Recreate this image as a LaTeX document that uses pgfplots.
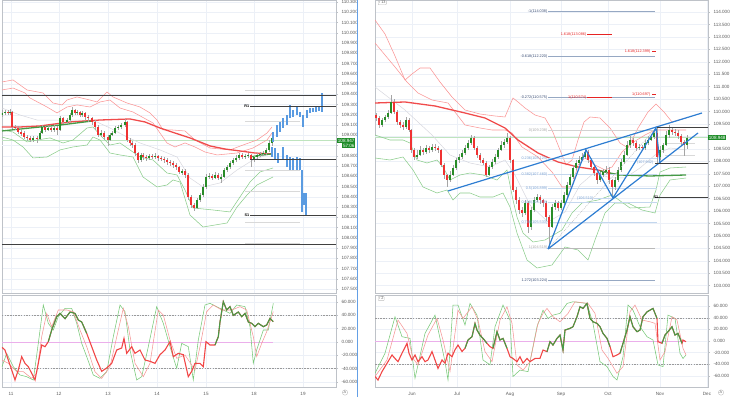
\documentclass[border=0pt]{standalone}
\usepackage{pgfplots}
\pgfplotsset{compat=1.18}
\usepackage{pgfplotstable}
\usepackage{fontspec}
\setmainfont{Liberation Sans}
\definecolor{gridc}{RGB}{236,240,247}
\definecolor{axisc}{RGB}{190,194,200}
\definecolor{tickc}{RGB}{90,90,90}
\definecolor{upc}{RGB}{40,140,40}
\definecolor{downc}{RGB}{240,50,50}
\definecolor{wickc}{RGB}{165,165,165}
\definecolor{bbred}{RGB}{250,150,150}
\definecolor{bbgreen}{RGB}{140,205,140}
\definecolor{midc}{RGB}{215,215,222}
\definecolor{mared}{RGB}{240,75,75}
\definecolor{magreen}{RGB}{70,155,70}
\definecolor{bluec}{RGB}{45,125,210}
\definecolor{projc}{RGB}{90,155,225}
\definecolor{fibline}{RGB}{150,168,195}
\definecolor{fibtext}{RGB}{55,75,115}
\definecolor{fiblb}{RGB}{195,215,238}
\definecolor{fiblbt}{RGB}{120,160,210}
\definecolor{fibred}{RGB}{230,35,35}
\definecolor{pinkc}{RGB}{235,175,235}
\definecolor{curg}{RGB}{30,140,40}
\definecolor{curl}{RGB}{190,228,190}
\definecolor{oscg}{RGB}{120,200,120}
\definecolor{oscr}{RGB}{245,150,150}
\definecolor{sepc}{RGB}{100,160,230}
\newcommand{\tk}{\fontsize{4.6}{5}\selectfont}
\newcommand{\fb}{\fontsize{3.8}{4}\selectfont}

\pgfplotsset{tv/.style={scale only axis, enlargelimits=false, clip mode=individual,
  axis line style={draw=axisc, line width=0.5pt},
  xmajorgrids, ymajorgrids, grid style={draw=gridc, line width=0.4pt},
  ytick pos=right, yticklabel pos=right, tick align=outside, major tick length=2pt,
  tick style={draw=axisc, line width=0.4pt},
  xtick style={draw=none},
  ticklabel style={font=\tk, text=tickc},
  y tick label style={/pgf/number format/fixed, /pgf/number format/fixed zerofill, /pgf/number format/precision=3, /pgf/number format/assume math mode=true},
  scaled y ticks=false,
  extra tick style={grid=major, tick style={draw=axisc}},
}}

\newcommand{\drawcandles}[3]{%
  \addplot[draw=none, no markers, forget plot, error bars/.cd, y dir=both, y explicit, error mark=none, error bar style={line width=0.45pt, draw=wickc}]
    table[x=x, y expr={0.5*(\thisrow{h}+\thisrow{l})}, y error expr={0.5*(\thisrow{h}-\thisrow{l})}] {#1};
  \addplot[draw=none, no markers, forget plot, restrict expr to domain={\thisrow{c}-\thisrow{o}}{0:1000}, unbounded coords=discard, error bars/.cd, y dir=both, y explicit, error mark=none, error bar style={line width=#2, draw=upc}]
    table[x=x, y expr={0.5*(\thisrow{o}+\thisrow{c})}, y error expr={max(0.5*abs(\thisrow{c}-\thisrow{o}),#3)}] {#1};
  \addplot[draw=none, no markers, forget plot, restrict expr to domain={\thisrow{c}-\thisrow{o}}{-1000:-0.0000001}, unbounded coords=discard, error bars/.cd, y dir=both, y explicit, error mark=none, error bar style={line width=#2, draw=downc}]
    table[x=x, y expr={0.5*(\thisrow{o}+\thisrow{c})}, y error expr={max(0.5*abs(\thisrow{c}-\thisrow{o}),#3)}] {#1};
}

\pgfplotstableread{
x o c h l
2 109.199 109.218 109.245 109.18
5 109.218 109.227 109.25 109.20
8 109.227 109.218 109.245 109.195
10 109.218 109.227 109.255 109.20
12 109.227 109.081 109.24 109.06
15 109.081 109.071 109.10 109.05
18 109.071 109.032 109.09 109.01
21 109.032 109.022 109.05 108.99
24 109.022 108.983 109.04 108.96
27 108.983 108.974 109.00 108.94
30 108.974 108.954 108.99 108.93
33 108.954 108.974 108.99 108.93
37 108.974 108.964 108.99 108.92
40 108.964 109.022 109.04 108.95
42 109.022 109.081 109.10 109.01
45 109.081 109.052 109.09 109.03
48 109.052 109.071 109.09 109.04
51 109.071 109.052 109.09 109.03
54 109.052 109.071 109.10 109.03
57 109.071 109.052 109.09 109.00
60 109.052 109.169 109.19 109.04
63 109.169 109.130 109.18 109.11
67 109.130 109.149 109.17 109.11
70 109.149 109.198 109.22 109.13
72 109.198 109.247 109.28 109.18
75 109.247 109.218 109.26 109.20
77 109.218 109.227 109.25 109.20
80 109.227 109.198 109.24 109.18
82 109.198 109.218 109.24 109.18
85 109.218 109.179 109.23 109.15
88 109.179 109.169 109.20 109.13
92 109.169 109.130 109.18 109.10
95 109.130 109.081 109.15 109.05
98 109.081 109.003 109.10 108.98
101 109.003 109.022 109.05 108.98
104 109.022 108.983 109.04 108.95
108 108.983 108.954 109.00 108.90
110 108.954 109.003 109.02 108.94
112 109.003 109.022 109.04 108.99
115 109.022 109.071 109.09 109.01
118 109.071 109.081 109.10 109.05
121 109.081 109.100 109.12 109.06
125 109.100 109.130 109.16 109.08
127 109.130 108.954 109.14 108.93
130 108.954 108.925 108.97 108.90
132 108.925 108.905 108.94 108.88
135 108.905 108.827 108.92 108.80
138 108.827 108.759 108.84 108.73
141 108.759 108.808 108.83 108.74
143 108.808 108.788 108.83 108.76
146 108.788 108.779 108.81 108.75
149 108.779 108.798 108.82 108.76
152 108.798 108.788 108.82 108.77
155 108.788 108.798 108.83 108.77
158 108.798 108.779 108.81 108.75
161 108.779 108.769 108.80 108.75
164 108.769 108.759 108.79 108.73
167 108.759 108.740 108.78 108.71
170 108.740 108.730 108.76 108.70
173 108.730 108.710 108.75 108.68
176 108.710 108.691 108.73 108.66
179 108.691 108.642 108.70 108.62
182 108.642 108.650 108.67 108.61
185 108.650 108.613 108.67 108.58
188 108.613 108.398 108.63 108.37
191 108.398 108.320 108.42 108.29
194 108.320 108.291 108.34 108.26
197 108.291 108.369 108.39 108.28
200 108.369 108.417 108.44 108.35
203 108.417 108.496 108.52 108.40
206 108.496 108.593 108.62 108.48
209 108.593 108.603 108.63 108.57
212 108.603 108.583 108.62 108.56
215 108.583 108.613 108.64 108.57
218 108.613 108.583 108.63 108.56
221 108.583 108.593 108.62 108.53
224 108.593 108.661 108.68 108.58
227 108.661 108.691 108.71 108.64
230 108.691 108.730 108.75 108.67
233 108.730 108.759 108.78 108.71
236 108.759 108.779 108.81 108.74
239 108.779 108.808 108.83 108.76
242 108.808 108.788 108.83 108.77
245 108.788 108.798 108.82 108.77
248 108.798 108.808 108.83 108.78
251 108.808 108.759 108.82 108.69
254 108.759 108.788 108.80 108.74
257 108.788 108.808 108.83 108.77
260 108.808 108.818 108.84 108.79
263 108.818 108.827 108.85 108.80
266 108.827 108.857 108.88 108.81
269 108.857 108.925 108.95 108.84
272 108.925 108.974 109.00 108.90
}\lcandles

\pgfplotstableread{
x lo hi
273 108.935 109.032
277 108.983 109.100
280 109.032 109.130
283 109.071 109.169
287 109.100 109.198
290 109.169 109.296
293 109.179 109.247
297 109.198 109.276
300 109.179 109.227
303 109.081 109.198
307 109.169 109.247
310 109.218 109.266
313 109.227 109.266
316 109.227 109.276
319 109.237 109.286
322 109.227 109.413
272 108.788 108.886
275 108.759 108.876
278 108.730 108.827
283 108.759 108.886
287 108.691 108.808
290 108.661 108.788
293 108.661 108.779
297 108.661 108.788
300 108.661 108.779
302 108.252 108.661
304 108.320 108.437
306 108.222 108.437
}\lproj

\pgfplotstableread{
x o c h l
373 109.981 109.860 110.06 109.78
376 109.860 109.740 109.94 109.62
379 109.740 109.458 109.80 109.34
382 109.458 109.659 109.74 109.38
385 109.659 109.780 109.88 109.58
388 109.780 109.941 110.06 109.70
391 109.941 110.383 110.66 109.90
394 110.383 109.981 110.50 109.90
397 109.981 109.579 110.05 109.45
400 109.579 109.458 109.66 109.35
403 109.458 109.378 109.56 109.26
406 109.378 109.659 109.78 109.30
409 109.659 109.257 109.74 109.18
411 109.257 108.454 109.30 108.35
414 108.454 108.172 108.55 108.05
417 108.172 108.253 108.45 108.10
420 108.253 108.454 108.60 108.20
423 108.454 108.373 108.55 108.25
426 108.373 108.534 108.65 108.30
429 108.534 108.454 108.62 108.35
432 108.454 108.574 108.70 108.38
435 108.574 108.534 108.70 108.42
438 108.534 108.454 108.62 108.35
441 108.454 107.851 108.50 107.75
444 107.851 107.449 107.95 107.30
447 107.449 107.248 107.50 106.97
450 107.248 107.449 107.60 107.15
453 107.449 107.730 107.85 107.40
456 107.730 108.052 108.15 107.65
459 108.052 108.172 108.30 107.95
462 108.172 108.333 108.45 108.10
465 108.333 108.534 108.65 108.25
468 108.534 108.735 108.85 108.45
471 108.735 108.936 109.05 108.65
474 108.936 108.534 109.00 108.45
477 108.534 108.253 108.60 108.15
480 108.253 108.052 108.35 107.95
483 108.052 107.931 108.15 107.85
486 107.931 107.449 108.00 107.37
489 107.449 107.770 107.85 107.40
492 107.770 107.971 108.10 107.70
495 107.971 108.172 108.30 107.90
498 108.172 108.454 108.55 108.10
501 108.454 108.655 108.80 108.40
504 108.655 108.775 108.90 108.55
507 108.775 108.936 109.12 108.70
510 108.936 108.052 109.00 107.95
513 108.052 106.846 108.10 106.75
516 106.846 106.444 106.95 106.30
519 106.444 106.042 106.55 105.90
522 106.042 105.921 106.15 105.75
525 105.921 106.323 106.45 105.85
528 106.323 105.359 106.40 105.10
531 105.359 106.042 106.15 105.25
534 106.042 106.444 106.55 105.95
537 106.444 106.564 106.70 106.35
540 106.564 106.444 106.65 106.30
543 106.444 106.323 106.50 106.15
546 106.323 105.761 106.40 105.60
549 105.761 105.359 105.85 104.48
552 105.359 106.163 106.30 105.30
555 106.163 106.323 106.45 106.05
558 106.323 106.122 106.40 106.00
561 106.122 106.323 106.45 106.05
564 106.323 106.645 106.75 106.25
567 106.645 107.047 107.15 106.55
570 107.047 107.368 107.50 106.95
573 107.368 107.730 107.85 107.30
576 107.730 107.931 108.05 107.65
579 107.931 108.052 108.20 107.85
582 108.052 108.172 108.35 108.00
585 108.172 108.373 108.52 108.10
588 108.373 108.052 108.45 107.95
591 108.052 107.770 108.15 107.65
594 107.770 107.529 107.85 107.40
597 107.529 107.248 107.60 107.10
600 107.248 107.449 107.55 107.15
603 107.449 107.570 107.70 107.35
606 107.570 107.650 107.80 107.50
609 107.650 107.248 107.75 107.10
612 107.248 106.966 107.30 106.56
615 106.966 107.248 107.35 106.85
618 107.248 107.650 107.75 107.15
621 107.650 107.971 108.10 107.55
624 107.971 108.253 108.40 107.90
627 108.253 108.655 108.80 108.20
630 108.655 108.855 109.00 108.55
633 108.855 108.735 108.95 108.60
636 108.735 108.534 108.80 108.40
639 108.534 108.574 108.70 108.45
642 108.574 108.534 108.65 108.42
645 108.534 108.735 108.85 108.45
648 108.735 108.855 109.00 108.65
651 108.855 108.976 109.10 108.80
654 108.976 109.137 109.30 108.90
657 109.137 108.172 109.36 107.95
660 108.172 108.454 108.60 108.05
663 108.454 108.655 108.75 108.35
666 108.655 109.056 109.20 108.60
669 109.056 109.257 109.45 108.95
672 109.257 109.177 109.35 109.05
675 109.177 109.137 109.30 109.00
678 109.137 109.016 109.25 108.90
681 109.016 108.775 109.10 108.60
684 108.775 108.655 108.85 108.20
687 108.655 108.948 109.05 108.50
}\rcandles

\begin{document}
\begin{tikzpicture}
\useasboundingbox (0,0) rectangle (730pt,397pt);

%================ LEFT MAIN =================
\begin{axis}[tv, at={(2pt,397pt)}, anchor=north west, width=334pt, height=293pt,
  xmin=2, xmax=336, ymin=107.461, ymax=110.32,
  xtick={11,59,108,157,206,254,303}, xticklabels={},
  ytick={107.5,107.6,107.7,107.8,107.9,108.0,108.1,108.2,108.3,108.4,108.5,108.6,108.7,108.8,109.0,109.1,109.2,109.3,109.4,109.5,109.6,109.7,109.8,109.9,110.0,110.1,110.2,110.3},
  extra y ticks={108.9}, extra y tick labels={}]
\addplot[curl, line width=0.5pt] coordinates {(2,108.947) (336,108.947)};
\addplot[midc, line width=0.5pt] coordinates {(2,109.266) (20,109.198) (37,109.149) (80,109.149) (97,109.130) (110,109.071) (127,108.983) (140,108.925) (160,108.857) (177,108.788) (190,108.583) (203,108.496) (220,108.535) (237,108.661) (253,108.759) (272,108.827)};
\addplot[bbred, line width=0.55pt] coordinates {(2,109.520) (13,109.540) (27,109.442) (43,109.413) (53,109.315) (62,109.296) (67,109.344) (77,109.374) (90,109.344) (97,109.325) (107,109.422) (113,109.374) (127,109.315) (140,109.276) (150,109.218) (157,109.149) (163,109.052) (172,109.052) (185,109.042) (195,108.954) (210,108.876) (230,108.857) (243,108.905) (257,108.954) (267,109.022) (272,109.081)};
\addplot[bbred, line width=0.55pt] coordinates {(2,109.442) (13,109.461) (25,109.413) (30,109.364) (47,109.276) (57,109.218) (67,109.276) (77,109.296) (90,109.276) (100,109.325) (110,109.344) (120,109.266) (133,109.227) (153,109.120) (160,109.022) (167,108.925) (175,108.886) (185,108.925) (195,108.886) (205,108.837) (217,108.808) (237,108.827) (253,108.876) (267,108.954) (272,109.022)};
\addplot[bbgreen, line width=0.55pt] coordinates {(2,109.052) (13,109.032) (27,108.935) (37,108.954) (50,108.974) (63,108.925) (73,108.954) (87,109.071) (93,109.081) (100,109.003) (110,108.905) (120,108.925) (130,108.857) (140,108.788) (153,108.759) (167,108.632) (177,108.613) (185,108.466) (193,108.291) (213,108.271) (230,108.252) (240,108.398) (250,108.544) (260,108.642) (273,108.681)};
\addplot[bbgreen, line width=0.55pt] coordinates {(2,108.983) (13,108.954) (23,108.886) (33,108.779) (47,108.788) (60,108.857) (73,108.886) (87,108.905) (93,108.983) (100,108.954) (110,108.827) (120,108.808) (133,108.788) (143,108.593) (157,108.496) (167,108.515) (173,108.564) (180,108.544) (190,108.222) (203,108.105) (227,108.144) (237,108.300) (247,108.417) (257,108.515) (273,108.593)};
\addplot[mared, line width=1.3pt] coordinates {(2,109.081) (20,109.081) (40,109.091) (70,109.130) (100,109.149) (130,109.159) (145,109.130) (160,109.071) (175,109.022) (190,108.974) (200,108.935) (210,108.896) (225,108.866) (240,108.847) (255,108.827) (272,108.818)};
\addplot[magreen, line width=1.3pt] coordinates {(2,109.042) (30,109.071) (60,109.100) (93,109.140)};
\addplot[magreen, line width=1.3pt] coordinates {(250,108.788) (262,108.808) (272,108.818)};
% faint pivot levels
\addplot[gray!30, line width=0.4pt] coordinates {(245,109.44) (300,109.44)};
\addplot[gray!30, line width=0.4pt] coordinates {(245,109.14) (300,109.14)};
\addplot[gray!30, line width=0.4pt] coordinates {(245,108.66) (300,108.66)};
\addplot[gray!30, line width=0.4pt] coordinates {(245,108.45) (300,108.45)};
\addplot[gray!30, line width=0.4pt] coordinates {(245,108.15) (300,108.15)};
\addplot[gray!30, line width=0.4pt] coordinates {(245,107.95) (300,107.95)};
\drawcandles{\lcandles}{1.3pt}{0.004}
\addplot[draw=none, no markers, forget plot, error bars/.cd, y dir=both, y explicit, error mark=none, error bar style={line width=1.1pt, draw=projc}]
  table[x=x, y expr={0.5*(\thisrow{lo}+\thisrow{hi})}, y error expr={0.5*(\thisrow{hi}-\thisrow{lo})}] {\lproj};
\addplot[black!75, line width=0.9pt] coordinates {(2,109.385) (336,109.385)};
\addplot[black!75, line width=0.9pt] coordinates {(250,109.28) (336,109.28)};
\addplot[black!75, line width=0.9pt] coordinates {(250,108.76) (336,108.76)};
\addplot[black!75, line width=0.9pt] coordinates {(250,108.22) (336,108.22)};
\addplot[black!75, line width=0.9pt] coordinates {(2,107.93) (336,107.93)};
\node[anchor=east, font=\fb\bfseries, inner sep=0.5pt] at (axis cs:250,109.28) {R1};
\node[anchor=east, font=\fb\bfseries, inner sep=0.5pt] at (axis cs:250,108.22) {S1};
\node[anchor=west, fill=curg, text=white, font=\tk, inner sep=0.7pt] (lp) at (axis cs:337,108.947) {108.947};
\node[anchor=north east, fill=curg, text=white, font=\tk, inner sep=0.7pt] at (lp.south east) {57:06};
\end{axis}

%================ LEFT OSC =================
\begin{axis}[tv, at={(2pt,102pt)}, anchor=north west, width=334pt, height=92pt,
  xmin=2, xmax=336, ymin=-67.5, ymax=70.5,
  xtick={11,59,108,157,206,254,303}, xticklabels={11,12,13,14,15,18,19},
  ytick={-60,-40,-20,0,20,40,60}]
\addplot[pinkc, line width=0.5pt] coordinates {(2,0) (273,0)};
\addplot[gray!80, line width=0.4pt, dash pattern=on 1.5pt off 1.2pt] coordinates {(2,40) (336,40)};
\addplot[gray!80, line width=0.4pt, dash pattern=on 1.5pt off 1.2pt] coordinates {(2,-40) (336,-40)};
\addplot[oscg, line width=0.55pt] coordinates {(2,-37) (6.7,-17) (13.3,-37) (20,-49.5) (26.7,-52) (33.3,-57) (38.3,-2) (43.3,55.5) (48.3,28) (53.3,18) (58.3,38) (65,50.5) (71.7,50.5) (76.7,28) (81.7,-2) (86.7,-22) (93.3,-49.5) (100,-54.5) (106.7,-44.5) (113.3,8) (120,55.5) (125,45.5) (130,-12) (136.7,-57) (141.7,-52) (148.3,-7) (156.7,53) (163.3,28) (170,-7) (176.7,-39.5) (181.7,-2) (188.3,-7) (193.3,-57) (198.3,3) (205,55.5) (210,58) (220,50.5) (230,43) (236.7,55.5) (245,53) (250,23) (253.3,-32) (256.7,-12) (263.3,18) (268.3,18) (273.3,58)};
\addplot[oscr, line width=0.55pt] coordinates {(2,-27) (8.3,-32) (16.7,-44.5) (23.3,-44.5) (31.7,-54.5) (36.7,-47) (41.7,8) (46.7,43) (51.7,23) (58.3,48) (66.7,48) (73.3,45.5) (80,18) (86.7,-7) (95,-44.5) (101.7,-54.5) (110,-37) (118.3,18) (123.3,50.5) (128.3,23) (135,-32) (143.3,-52) (150,-32) (158.3,48) (163.3,40.5) (170,3) (176.7,-24.5) (185,-19.5) (195,-42) (200,-7) (206.7,45.5) (213.3,55.5) (221.7,48) (231.7,48) (240,53) (246.7,48) (253.3,8) (256.7,-22) (261.7,-2) (266.7,15.5) (273.3,45.5)};
\addplot[downc!90, line width=1.1pt] coordinates {(2,-8) (5,-12) (8.3,-27) (11.7,-42) (15,-57) (18.3,-42) (21.7,-22) (25,-32) (28.3,-37) (31.7,-47) (35,-57) (38.3,-32) (41.7,-4.5) (45,-7) (48.3,0.5) (51.7,18) (56.7,38) (60,43) (65,35) (70,45) (75,43) (78.3,33) (81.7,30) (86.7,13) (91.7,-7) (96.7,-27) (101.7,-44) (106.7,-39) (111.7,-32) (116.7,-12) (121.7,-9) (124,5.5) (126.7,-17) (131.7,-7) (135,-17) (140,-12) (145,-27) (150,-29) (155,-32) (160,-19) (165,-12) (170,0.5) (173.3,-22) (178.3,-17) (183.3,-19) (188.3,-52) (191.7,-44) (195,-32) (200,-32) (203.3,-37) (206,0.5) (210,-4.5) (215,-4.5) (218.3,8) (220,30) (223.3,60.5) (226.7,48) (230,53) (233.3,40) (238.3,45) (241.7,38) (245,43) (248.3,30) (251.7,28) (255,23) (258.3,28) (263.3,23) (266.7,25.5) (270,35.5) (273.3,30.5)};
\addplot[magreen, line width=1.1pt] coordinates {(48.3,0.5) (51.7,18) (56.7,38) (60,43) (65,35) (70,45) (75,43) (78.3,33) (81.7,30) (86.7,13)};
\addplot[magreen, line width=1.1pt] coordinates {(215,-4.5) (218.3,8) (220,30) (223.3,60.5) (226.7,48) (230,53) (233.3,40) (238.3,45) (241.7,38) (245,43) (248.3,30) (251.7,28) (255,23) (258.3,28) (263.3,23) (266.7,25.5) (270,35.5) (273.3,30.5)};
\end{axis}

%================ RIGHT MAIN =================
\begin{axis}[tv, at={(375pt,397pt)}, anchor=north west, width=333pt, height=293pt,
  xmin=375, xmax=708, ymin=102.706, ymax=114.482,
  xtick={412,457,510,561,608,660,707}, xticklabels={},
  ytick={103,103.5,104,104.5,105,105.5,106,106.5,107,107.5,108,108.5,109.5,110,110.5,111,111.5,112,112.5,113,113.5,114},
  extra y ticks={109}, extra y tick labels={}]
\addplot[curl, line width=0.5pt] coordinates {(375,108.948) (708,108.948)};
\addplot[midc, line width=0.5pt] coordinates {(375,110.985) (405,110.061) (432,109.056) (450,108.253) (470,107.931) (490,107.770) (505,108.052) (515,107.449) (530,106.243) (548,105.560) (565,105.962) (580,107.047) (595,107.569) (610,107.328) (625,107.328) (640,107.730) (655,108.253) (670,108.534) (686,108.454)};
\addplot[bbred, line width=0.55pt] coordinates {(375,113.678) (385,113.115) (395,112.231) (405,111.267) (412,111.508) (420,111.749) (430,111.749) (440,111.186) (452,110.583) (465,110.061) (480,109.900) (495,109.820) (505,109.780) (510,110.262) (513,110.543) (518,110.383) (525,110.142) (535,109.860) (545,109.740) (552,109.257) (560,108.454) (566,107.851) (572,108.052) (578,108.855) (584,109.579) (590,109.780) (600,109.740) (610,109.338) (620,108.735) (628,108.534) (638,109.338) (648,109.981) (656,110.302) (664,109.981) (672,109.579) (686,109.740)};
\addplot[bbred, line width=0.55pt] coordinates {(375,112.754) (395,111.789) (407,111.186) (418,110.744) (432,110.463) (448,110.342) (465,109.458) (480,109.338) (492,109.257) (505,109.257) (512,109.137) (522,108.574) (538,108.172) (552,107.569) (562,106.966) (572,106.966) (578,107.851) (585,108.132) (595,107.851) (605,107.650) (612,107.770) (622,108.373) (632,108.735) (645,109.056) (655,109.257) (665,109.257) (686,109.257)};
\addplot[bbgreen, line width=0.55pt] coordinates {(375,109.056) (390,108.855) (403,108.855) (410,108.735) (417,108.052) (427,107.931) (437,108.052) (443,107.770) (450,107.248) (460,107.449) (470,107.529) (483,107.449) (497,107.248) (507,107.650) (513,106.444) (517,105.761) (523,105.117) (533,104.756) (545,104.836) (562,105.238) (572,105.921) (582,106.323) (598,106.444) (612,106.645) (630,106.122) (650,106.163) (656,106.846) (660,107.569) (670,107.730) (686,107.770)};
\addplot[bbgreen, line width=0.55pt] coordinates {(375,108.132) (390,108.052) (403,108.172) (413,107.650) (423,106.966) (437,106.725) (447,106.846) (453,106.444) (460,106.725) (470,106.725) (480,106.564) (493,106.564) (503,106.725) (510,106.163) (517,105.117) (527,104.033) (537,103.711) (552,103.832) (565,104.555) (578,104.435) (588,104.033) (595,104.836) (605,105.921) (615,106.323) (628,106.323) (642,106.042) (655,105.921) (660,106.645) (670,107.248) (686,107.328)};
\addplot[mared, line width=1.3pt] coordinates {(375,110.342) (405,110.383) (435,110.222) (465,109.941) (485,109.740) (505,109.338) (518,108.855) (538,108.333) (558,107.971) (578,107.770) (598,107.650) (612,107.489) (620,107.449)};
\addplot[magreen, line width=1.3pt] coordinates {(600,107.609) (620,107.449) (650,107.409) (686,107.449)};
% Fibonacci levels
\addplot[fibline, line width=0.6pt] coordinates {(548,114.038) (655,114.038)};
\addplot[fibline, line width=0.6pt] coordinates {(548,112.220) (655,112.220)};
\addplot[fibline, line width=0.6pt] coordinates {(548,110.575) (655,110.575)};
\addplot[fibline, line width=0.6pt] coordinates {(548,103.224) (655,103.224)};
\addplot[gray!35, line width=1.2pt] coordinates {(548,109.238) (655,109.238)};
\addplot[fiblb, line width=1.0pt] coordinates {(548,108.124) (657,108.124)};
\addplot[fiblb, line width=1.0pt] coordinates {(548,107.460) (657,107.460)};
\addplot[fiblb, line width=1.0pt] coordinates {(548,106.899) (657,106.899)};
\addplot[fiblb, line width=1.0pt] coordinates {(548,106.338) (657,106.338)};
\addplot[fiblb, line width=1.0pt] coordinates {(548,105.533) (657,105.533)};
\addplot[gray!55, line width=0.6pt] coordinates {(548,104.519) (655,104.519)};
\addplot[fiblb, line width=1.0pt] coordinates {(594,106.510) (612,106.510)};
\addplot[fibred, line width=1.3pt] coordinates {(587,113.086) (612,113.086)};
\addplot[fibred, line width=1.3pt] coordinates {(587,110.574) (612,110.574)};
\addplot[fibred, line width=1.3pt] coordinates {(652,112.399) (656,112.399)};
\addplot[fibred, line width=1.3pt] coordinates {(652,110.697) (656,110.697)};
\addplot[gray!30, line width=0.4pt] coordinates {(665,108.735) (695,108.735)};
\addplot[gray!30, line width=0.4pt] coordinates {(665,108.253) (695,108.253)};
\drawcandles{\rcandles}{1.5pt}{0.015}
\addplot[gray!60, line width=0.4pt, dash pattern=on 1pt off 1pt] coordinates {(548,104.475) (656,109.338)};
\addplot[bluec, line width=1.2pt] coordinates {(448,106.806) (702,109.941)};
\addplot[bluec, line width=1.2pt] coordinates {(548,104.475) (698,109.137)};
\addplot[bluec, line width=1.2pt] coordinates {(548,104.475) (586,108.454) (613,106.524) (656,109.338) (660,107.931)};
\addplot[black!75, line width=0.9pt] coordinates {(657,109.378) (708,109.378)};
\addplot[black!75, line width=0.9pt] coordinates {(655,107.931) (708,107.931)};
\addplot[black!75, line width=0.9pt] coordinates {(655,106.564) (708,106.564)};
\node[anchor=east, font=\fb, text=fibtext, inner sep=0.5pt] at (axis cs:548,114.038) {-1(114.038)};
\node[anchor=east, font=\fb, text=fibtext, inner sep=0.5pt] at (axis cs:548,112.220) {-0.618(112.220)};
\node[anchor=east, font=\fb, text=fibtext, inner sep=0.5pt] at (axis cs:548,110.575) {-0.272(110.575)};
\node[anchor=east, font=\fb, text=gray!70, inner sep=0.5pt] at (axis cs:548,109.238) {0(109.238)};
\node[anchor=east, font=\fb, text=fiblbt, inner sep=0.5pt] at (axis cs:548,108.124) {0.236(108.124)};
\node[anchor=east, font=\fb, text=fiblbt, inner sep=0.5pt] at (axis cs:548,107.460) {0.382(107.460)};
\node[anchor=east, font=\fb, text=fiblbt, inner sep=0.5pt] at (axis cs:548,106.899) {0.5(106.899)};
\node[anchor=east, font=\fb, text=fiblbt, inner sep=0.5pt] at (axis cs:548,106.338) {0.618(106.338)};
\node[anchor=east, font=\fb, text=fiblbt, inner sep=0.5pt] at (axis cs:548,105.533) {0.786(105.533)};
\node[anchor=east, font=\fb, text=gray!70, inner sep=0.5pt] at (axis cs:548,104.519) {1(104.519)};
\node[anchor=east, font=\fb, text=fibtext, inner sep=0.5pt] at (axis cs:548,103.224) {1.272(103.224)};
\node[anchor=east, font=\fb, text=fibred, inner sep=0.5pt] at (axis cs:587,113.086) {1.618(113.086)};
\node[anchor=east, font=\fb, text=fibred, inner sep=0.5pt] at (axis cs:587,110.574) {1(110.574)};
\node[anchor=east, font=\fb, text=fibred, inner sep=0.5pt] at (axis cs:651,112.399) {1.618(112.399)};
\node[anchor=east, font=\fb, text=fibred, inner sep=0.5pt] at (axis cs:651,110.697) {1(110.697)};
\node[anchor=east, font=\fb, text=fiblbt, inner sep=0.5pt] at (axis cs:594,106.510) {(106.510)};
\node[anchor=east, font=\fb, text=fiblbt, inner sep=0.5pt] at (axis cs:654,107.942) {(107.942)};
\node[anchor=east, font=\fb\bfseries, inner sep=0.5pt] at (axis cs:659,106.564) {S1};
\node[anchor=west, fill=curg, text=white, font=\tk, inner sep=0.7pt] at (axis cs:708,108.948) {108.948};
\node[anchor=north west, draw=gray!50, rounded corners=0.8pt, font=\fb, text=tickc, inner sep=0.8pt] at (axis cs:378,114.47) {› 13};
\end{axis}

%================ RIGHT OSC =================
\begin{axis}[tv, at={(375pt,102pt)}, anchor=north west, width=333pt, height=92pt,
  xmin=375, xmax=708, ymin=-79, ymax=79,
  xtick={412,457,510,561,608,660,707}, xticklabels={Jun,Jul,Aug,Sep,Oct,Nov,Dec},
  ytick={-60,-40,-20,0,20,40,60}]
\addplot[pinkc, line width=0.5pt] coordinates {(375,0) (686,0)};
\addplot[gray!80, line width=0.4pt, dash pattern=on 1.5pt off 1.2pt] coordinates {(375,40) (708,40)};
\addplot[gray!80, line width=0.4pt, dash pattern=on 1.5pt off 1.2pt] coordinates {(375,-40) (708,-40)};
\addplot[oscg, line width=0.55pt] coordinates {(375,-55.5) (385,-21) (395,41.7) (402,7.4) (410,4.5) (415,-64) (425,13) (435,44.5) (445,-35.5) (448,-67) (453,61.7) (458,61.7) (465,27.4) (470,64.5) (477,44.5) (483,-32.6) (490,-41) (495,24.5) (503,61.7) (510,36) (513,-61) (520,-50) (528,-52.6) (537,24.5) (543,53) (548,38.8) (553,44.5) (560,47.4) (567,64.5) (573,67.4) (587,64.5) (593,30) (600,-35.5) (607,-44) (613,-61) (617,-67) (623,-27) (628,61.7) (633,53) (640,24.5) (647,7.4) (653,1.7) (658,-41) (663,-44) (668,44.5) (675,38.8) (680,-21) (683,-30) (686,-24)};
\addplot[oscr, line width=0.55pt] coordinates {(375,-61) (387,-32.6) (398,36) (407,13) (413,-30) (418,-41) (428,10.3) (437,38.8) (443,1.7) (450,-52.6) (458,53) (463,38.8) (472,58.8) (478,36) (485,-18.3) (492,-35.5) (500,36) (507,58.8) (512,30.3) (517,-41) (523,-50) (530,-35.5) (538,30.3) (543,47.4) (547,56) (553,41.7) (560,33) (568,47.4) (575,67.4) (588,64.5) (595,47.4) (602,-15.5) (608,-29.7) (617,-55.5) (623,-44) (630,50.3) (635,61.7) (642,36) (650,33) (655,30.3) (660,-32.6) (665,-18.3) (672,41.7) (677,36) (683,-12.6) (686,-24)};
\addplot[downc!90, line width=1.1pt] coordinates {(375,-61) (378,-67) (382,-52.6) (385,-44) (388,-35.5) (392,-24) (395,-30) (398,-35.5) (402,-21) (407,-4) (409,-21) (412,-32.6) (415,-24) (418,-35.5) (422,-27) (425,-35.5) (428,-32.6) (432,-18.3) (435,-32.6) (438,-47) (442,-32.6) (445,-38) (448,-21) (452,-27) (455,-15) (458,-7) (462,-18) (465,-12.6) (468,1.7) (472,7.4) (475,30) (477,18.8) (480,10) (483,4.5) (487,-4) (490,-9.7) (493,-12.6) (497,16) (500,1.7) (503,4.5) (507,-12.6) (510,-27) (513,-30) (517,-35.5) (520,-27) (523,-38) (527,-30) (530,-35.5) (535,-30) (540,-29.7) (543,-15.5) (547,-18.3) (550,-1.2) (553,-6.9) (557,4.5) (560,10.3) (563,-15.5) (565,18.8) (570,21.7) (573,24.5) (577,41.7) (580,58.8) (583,56) (587,64.5) (590,38.8) (593,33) (597,30.3) (600,24.5) (603,13) (607,4.5) (610,-9.7) (613,-27) (617,-24) (620,-21) (623,-4) (627,18.8) (630,41.7) (633,24.5) (637,16) (640,18.8) (643,41.7) (647,50) (650,53) (653,56) (657,38.8) (658,-1.2) (662,-4) (665,10.3) (668,16) (672,24.5) (675,10.3) (678,13) (682,-4) (683,1.7) (686,-1.2)};
\addplot[magreen, line width=1.1pt] coordinates {(465,-12.6) (468,1.7) (472,7.4) (475,30) (477,18.8) (480,10) (483,4.5) (487,-4)};
\addplot[magreen, line width=1.1pt] coordinates {(493,-12.6) (497,16) (500,1.7) (503,4.5) (507,-12.6)};
\addplot[magreen, line width=1.1pt] coordinates {(547,-18.3) (550,-1.2) (553,-6.9) (557,4.5) (560,10.3) (563,-15.5) (565,18.8) (570,21.7) (573,24.5) (577,41.7) (580,58.8) (583,56) (587,64.5) (590,38.8) (593,33) (597,30.3) (600,24.5) (603,13) (607,4.5) (610,-9.7)};
\addplot[magreen, line width=1.1pt] coordinates {(620,-21) (623,-4) (627,18.8) (630,41.7) (633,24.5) (637,16) (640,18.8) (643,41.7) (647,50) (650,53) (653,56) (657,38.8)};
\addplot[magreen, line width=1.1pt] coordinates {(662,-4) (665,10.3) (668,16) (672,24.5) (675,10.3) (678,13) (682,-4)};
\node[anchor=north west, draw=gray!50, rounded corners=0.8pt, font=\fb, text=tickc, inner sep=0.8pt] at (axis cs:378,77) {› 2};
\end{axis}

\draw[sepc, line width=1pt] (357pt,0pt) -- (357pt,397pt);
\node[circle, draw=gray!50, font=\fb, text=tickc, inner sep=0.6pt] at (345pt,4.5pt) {A};
\node[circle, draw=gray!50, font=\fb, text=tickc, inner sep=0.6pt] at (721pt,4.5pt) {A};
\end{tikzpicture}
\end{document}
